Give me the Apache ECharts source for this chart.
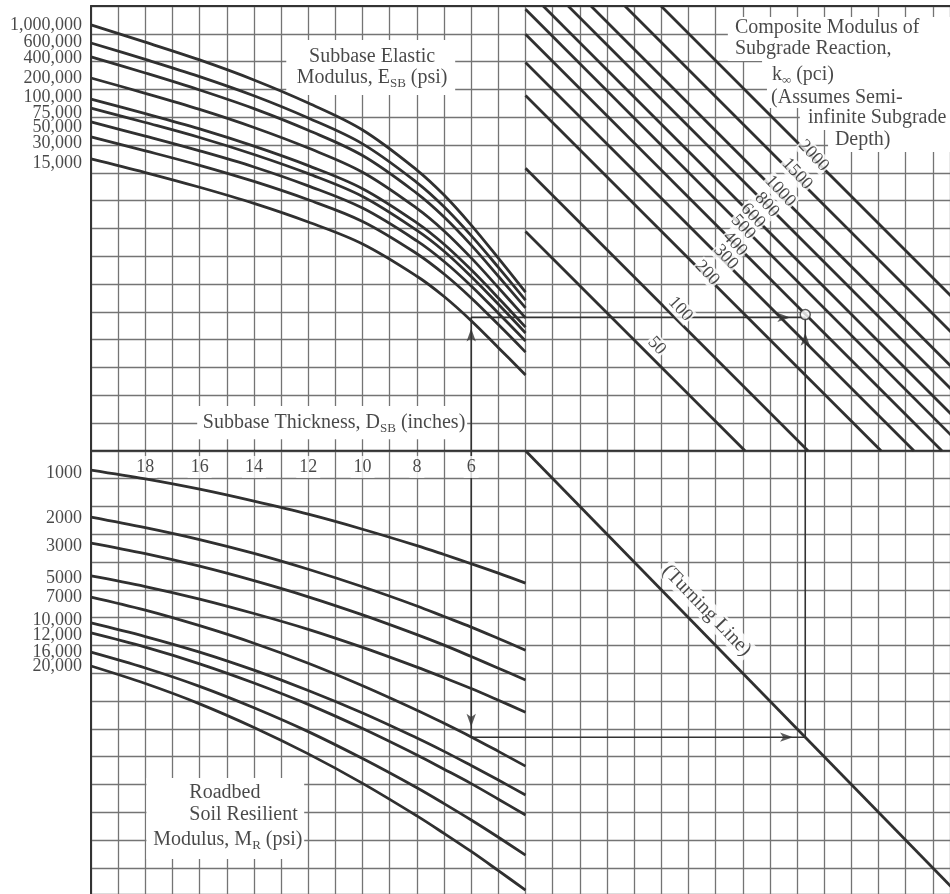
<!DOCTYPE html>
<html>
<head>
<meta charset="utf-8">
<script src="https://cdn.jsdelivr.net/npm/echarts@6/dist/echarts.min.js"></script>
<style>
html,body{margin:0;padding:0;background:#fff}
#chart{width:950px;height:894px}
</style>
</head>
<body>
<div id="chart"></div>
<script>
// Nomograph drawn on a square-cell grid; all coordinates are in grid cells
// (x to the right from the left border, y downward from the top border).
const X_MAX = 31.63;
const Y_MAX = 31.94;

// Columns (cells) at which the curves are sampled
const sampleCols = [0, 2, 4, 6, 8, 10, 12, 13, 14, 15, 16];

// Subbase elastic modulus curves, top-left quadrant
const esbLabels = ['1,000,000', '600,000', '400,000', '200,000', '100,000', '75,000', '50,000', '30,000', '15,000'];
const esbRows = [
  [0.68, 1.30, 1.94, 2.66, 3.49, 4.46, 5.90, 6.80, 7.88, 9.07, 10.29],
  [1.33, 1.92, 2.54, 3.23, 4.03, 4.96, 6.35, 7.22, 8.26, 9.40, 10.58],
  [1.83, 2.41, 3.02, 3.69, 4.47, 5.38, 6.74, 7.59, 8.60, 9.72, 10.86],
  [2.59, 3.14, 3.72, 4.37, 5.11, 5.98, 7.28, 8.09, 9.06, 10.13, 11.22],
  [3.35, 3.87, 4.42, 5.04, 5.74, 6.57, 7.80, 8.57, 9.49, 10.50, 11.55],
  [3.67, 4.19, 4.73, 5.34, 6.03, 6.85, 8.07, 8.82, 9.73, 10.73, 11.76],
  [4.17, 4.68, 5.21, 5.79, 6.47, 7.27, 8.45, 9.19, 10.07, 11.05, 12.05],
  [4.71, 5.21, 5.73, 6.31, 6.97, 7.75, 8.91, 9.64, 10.50, 11.46, 12.45],
  [5.50, 5.99, 6.52, 7.10, 7.77, 8.56, 9.72, 10.45, 11.32, 12.29, 13.27]
];

// Roadbed soil resilient modulus curves, bottom-left quadrant
const mrLabels = ['1000', '2000', '3000', '5000', '7000', '10,000', '12,000', '16,000', '20,000'];
const mrRows = [
  [16.69, 17.01, 17.38, 17.81, 18.28, 18.82, 19.41, 19.73, 20.06, 20.40, 20.76],
  [18.38, 18.76, 19.19, 19.69, 20.26, 20.89, 21.58, 21.96, 22.34, 22.75, 23.17],
  [19.32, 19.70, 20.15, 20.67, 21.25, 21.90, 22.61, 22.99, 23.40, 23.82, 24.24],
  [20.50, 20.88, 21.33, 21.85, 22.42, 23.07, 23.78, 24.16, 24.55, 24.97, 25.40],
  [21.26, 21.73, 22.29, 22.92, 23.64, 24.45, 25.33, 25.80, 26.29, 26.81, 27.34],
  [22.19, 22.68, 23.24, 23.89, 24.62, 25.43, 26.33, 26.81, 27.32, 27.84, 28.38],
  [22.55, 23.06, 23.66, 24.35, 25.12, 25.99, 26.94, 27.45, 27.97, 28.53, 29.10],
  [23.24, 23.81, 24.47, 25.24, 26.10, 27.07, 28.12, 28.69, 29.28, 29.90, 30.54],
  [23.74, 24.37, 25.10, 25.95, 26.90, 27.96, 29.13, 29.76, 30.41, 31.10, 31.80]
];

// Composite modulus of subgrade reaction lines, top-right quadrant (start, end)
const kLabels = ['2000', '1500', '1000', '800', '600', '500', '400', '300', '200', '100', '50'];
const kLines = [
  [[20.99, 0], [32, 10.76]],
  [[19.66, 0], [32, 12.05]],
  [[18.41, 0], [32, 13.28]],
  [[17.57, 0], [32, 14.10]],
  [[16.65, 0], [32, 15.00]],
  [[16, 0.12], [32, 15.76]],
  [[16, 1.02], [31.33, 16]],
  [[16, 2.03], [30.30, 16]],
  [[16, 3.22], [29.09, 16]],
  [[16, 5.84], [26.40, 16]],
  [[16, 8.11], [24.08, 16]]
];
// column at which each k value is written along its line
const kLabelCols = [26.55, 25.92, 25.30, 24.89, 24.37, 24.01, 23.71, 23.27, 22.61, 21.43, 20.51];
// how far (px) each k value sits above its line
const kLabelLift = [2, 3, 3, 0, 0, 0, 0, 4, 3, 10, 12];

// Turning line, bottom-right quadrant
const turningLine = [[16, 16], [32, 32]];

// Subbase thickness scale (inches); the left border is 20 in.
const thicknessTicks = [18, 16, 14, 12, 10, 8, 6];
const thicknessAtLeft = 20;

// Worked example: D_SB = 6 in.
const exampleThickness = 6;
const exampleTopY = 11.2;
const exampleBottomY = 26.3;
const exampleTurnX = 26.3;

// vertical nudges (px) that keep crowded modulus labels readable
const esbLabelNudge = [0, -1, 1, 0, -2, 5, 5, 6, 4];
const mrLabelNudge = [3, 1, 3, 2, 0, -3, 2, 0, 0];

const FONT = '"Liberation Serif", "Times New Roman", serif';
const INK = '#1a1a1a';
const CURVE = {color: '#303030', width: 2.8};
const GRIDLINE = {color: '#747474', width: 1.3};

const rich = {
  a: {fontSize: 20, fontFamily: FONT, color: INK, lineHeight: 21},
  s: {fontSize: 13, fontFamily: FONT, color: INK, lineHeight: 13, padding: [12, 0, 0, 0]}
};

function curveSeries(rows) {
  return rows.map(r => ({
    type: 'line', silent: true, smooth: 0.35, symbol: 'none', z: 3,
    lineStyle: CURVE,
    data: r.map((y, i) => [sampleCols[i], y])
  }));
}

function textItem(x, y, text, extra) {
  return {value: [x, y], label: Object.assign({
    show: true, formatter: text, rich: rich, color: INK,
    fontSize: 20, fontFamily: FONT, textBorderWidth: 0
  }, extra || {})};
}

const kLabelPoints = kLines.map((ln, i) => {
  const [[x1, y1], [x2, y2]] = ln;
  const x = kLabelCols[i];
  return {
    value: [x, y1 + (x - x1) * (y2 - y1) / (x2 - x1)],
    name: kLabels[i],
    label: {offset: [0, -kLabelLift[i]]}
  };
});

const thx = thicknessAtLeft - exampleThickness;

// white panels behind the titles
const whiteBoxes = [
  [[7.19, 1.22], [13.41, 3.20]],
  [[3.91, 14.39], [13.85, 15.58]],
  [[2.04, 27.77], [7.85, 30.68]],
  [[23.45, 0.40], [31.63, 1.19]],
  [[23.45, 1.19], [31.63, 1.98]],
  [[24.71, 1.98], [31.63, 2.91]],
  [[24.89, 2.91], [31.63, 3.67]],
  [[26.10, 3.67], [31.63, 4.46]],
  [[27.14, 4.46], [31.63, 5.25]]
];

const labelSeriesBase = {
  type: 'scatter', silent: true, symbolSize: 0.1,
  itemStyle: {color: 'transparent'}, z: 6
};

const option = {
  animation: false,
  backgroundColor: '#fff',
  grid: {left: 91, right: 0, top: 6, bottom: 0},
  xAxis: {
    type: 'value', min: 0, max: X_MAX, interval: 1, position: 'top',
    axisLine: {show: true, onZero: false, lineStyle: {color: '#333', width: 2}},
    axisTick: {show: false}, axisLabel: {show: false},
    splitLine: {show: true, lineStyle: GRIDLINE}
  },
  yAxis: {
    type: 'value', min: 0, max: Y_MAX, interval: 1, inverse: true,
    axisLine: {show: true, onZero: false, lineStyle: {color: '#333', width: 2}},
    axisTick: {show: false}, axisLabel: {show: false},
    splitLine: {show: true, lineStyle: GRIDLINE}
  },
  series: [
    // thickness axis line with the white title panels
    {
      type: 'line', silent: true, symbol: 'none', z: 1,
      lineStyle: {color: '#333', width: 2},
      data: [[0, 16], [X_MAX, 16]],
      markArea: {
        silent: true,
        itemStyle: {color: '#fff', opacity: 1},
        data: whiteBoxes.map(b => [{coord: b[0]}, {coord: b[1]}])
      }
    },
    ...curveSeries(esbRows),
    ...curveSeries(mrRows),
    ...kLines.map(ln => ({
      type: 'line', silent: true, symbol: 'none', z: 3, lineStyle: CURVE, data: ln
    })),
    {type: 'line', silent: true, symbol: 'none', z: 3, lineStyle: CURVE, data: turningLine},
    // example path
    {
      type: 'line', silent: true, symbol: 'none', z: 2,
      lineStyle: {color: '#333', width: 1.6},
      data: [[exampleTurnX, exampleTopY], [thx, exampleTopY], [thx, exampleBottomY],
             [exampleTurnX, exampleBottomY], [exampleTurnX, exampleTopY]]
    },
    {
      type: 'scatter', silent: true, symbol: 'arrow', symbolSize: [7, 13], z: 6,
      itemStyle: {color: '#333'},
      data: [
        {value: [thx, exampleTopY + 0.4], symbolRotate: 0},
        {value: [thx, exampleBottomY - 0.38], symbolRotate: 180},
        {value: [exampleTurnX - 0.45, exampleBottomY], symbolRotate: -90},
        {value: [exampleTurnX, exampleTopY + 0.55], symbolRotate: 0},
        {value: [exampleTurnX - 0.55, exampleTopY], symbolRotate: -90}
      ]
    },
    {
      type: 'scatter', silent: true, symbol: 'circle', symbolSize: 10, z: 7,
      itemStyle: {color: '#fff', borderColor: '#333', borderWidth: 1.5},
      data: [[exampleTurnX, exampleTopY - 0.1]]
    },
    // modulus tick labels on the left border
    Object.assign({}, labelSeriesBase, {
      label: {show: true, position: 'left', distance: 9, formatter: p => p.name,
              color: INK, fontSize: 18, fontFamily: FONT},
      data: esbRows.map((r, i) => ({value: [0, r[0]], name: esbLabels[i],
                                    label: {offset: [0, esbLabelNudge[i]]}}))
        .concat(mrRows.map((r, i) => ({value: [0, r[0]], name: mrLabels[i],
                                       label: {offset: [0, mrLabelNudge[i]]}})))
    }),
    // thickness tick labels (under the curves, over the grid)
    Object.assign({}, labelSeriesBase, {
      z: 2.5,
      label: {show: true, position: 'inside', formatter: p => p.name, color: INK,
              fontSize: 18, fontFamily: FONT, backgroundColor: '#fff', padding: [2, 3],
              textBorderWidth: 0},
      data: thicknessTicks.map(t => ({value: [thicknessAtLeft - t, 16.58], name: String(t)}))
    }),
    // k values written along their lines
    Object.assign({}, labelSeriesBase, {
      label: {show: true, position: 'inside', formatter: p => p.name, color: INK,
              fontSize: 18, fontFamily: FONT, rotate: -47, backgroundColor: '#fff',
              padding: [0, 1], textBorderWidth: 0},
      data: kLabelPoints
    }),
    // titles
    Object.assign({}, labelSeriesBase, {
      z: 8,
      data: [
        textItem(10.35, 2.21, '{a|Subbase Elastic}\n{a|Modulus, E}{s|SB}{a| (psi)}',
                 {position: 'inside', align: 'center'}),
        textItem(8.95, 15.0, '{a|Subbase Thickness, D}{s|SB}{a| (inches)}',
                 {position: 'inside', align: 'center'}),
        textItem(3.62, 28.31, '{a|Roadbed}', {position: 'right', distance: 0}),
        textItem(3.62, 29.10, '{a|Soil Resilient}', {position: 'right', distance: 0}),
        textItem(2.29, 30.0, '{a|Modulus, M}{s|R}{a| (psi)}', {position: 'right', distance: 0}),
        textItem(23.71, 0.79, '{a|Composite Modulus of}', {position: 'right', distance: 0}),
        textItem(23.71, 1.55, '{a|Subgrade Reaction,}', {position: 'right', distance: 0}),
        textItem(25.07, 2.48, '{a|k}{s|∞}{a| (pci)}', {position: 'right', distance: 0}),
        textItem(25.04, 3.31, '{a|(Assumes Semi-}', {position: 'right', distance: 0}),
        textItem(26.40, 4.03, '{a|infinite Subgrade}', {position: 'right', distance: 0}),
        textItem(27.39, 4.82, '{a|Depth)}', {position: 'right', distance: 0}),
        textItem(22.19, 22.19, '{a|(Turning Line)}',
                 {position: 'inside', rotate: -46, offset: [0, -18],
                  backgroundColor: '#fff', padding: [0, 2]})
      ]
    })
  ]
};

const chart = echarts.init(document.getElementById('chart'), null, {renderer: 'canvas'});
chart.setOption(option);
</script>
</body>
</html>
